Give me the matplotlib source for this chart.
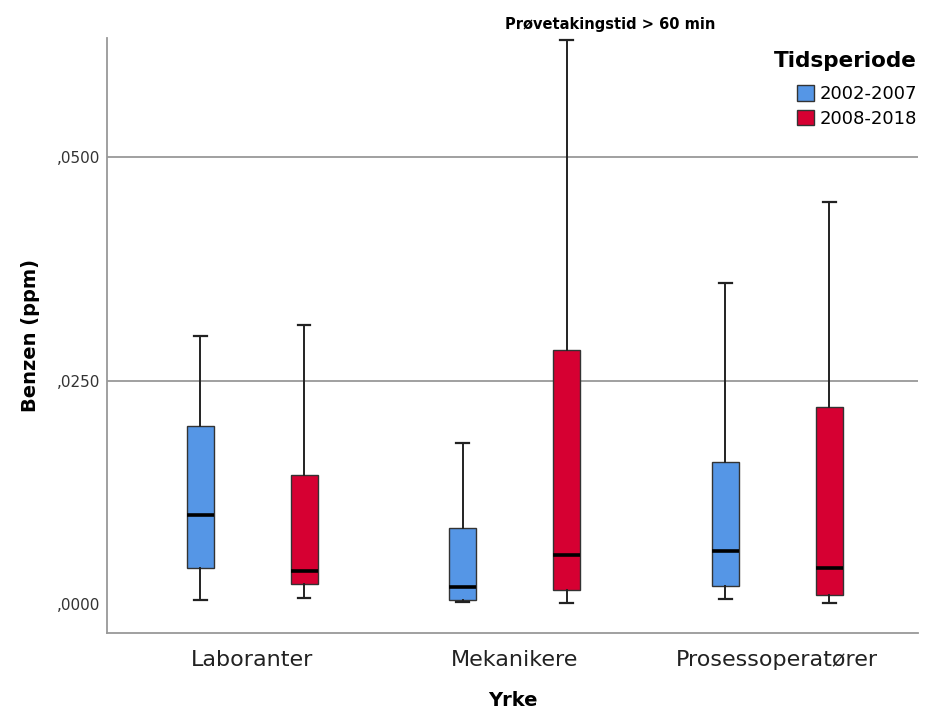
import matplotlib
matplotlib.use("Agg")
import matplotlib.pyplot as plt
from matplotlib.patches import Patch
from matplotlib.ticker import FixedLocator

categories = ["Laboranter", "Mekanikere", "Prosessoperatører"]
periods = ["2002-2007", "2008-2018"]

# per period: lists over categories
whislo = {"2002-2007": [0.00048, 0.00027, 0.00053], "2008-2018": [0.00070, 0.00010, 0.00016]}
q1     = {"2002-2007": [0.00400, 0.00046, 0.00202], "2008-2018": [0.00220, 0.00158, 0.00098]}
med    = {"2002-2007": [0.00999, 0.00194, 0.00597], "2008-2018": [0.00366, 0.00550, 0.00400]}
q3     = {"2002-2007": [0.01995, 0.00847, 0.01593], "2008-2018": [0.01443, 0.02840, 0.02208]}
whishi = {"2002-2007": [0.02998, 0.01797, 0.03594], "2008-2018": [0.03125, 0.06310, 0.04493]}

yticks = [0.0, 0.025, 0.05]
ytick_labels = [",0000", ",0250", ",0500"]
colors = {"2002-2007": "#5596E6", "2008-2018": "#D60032"}

fig = plt.figure(figsize=(9.29, 7.10), dpi=100)
ax = fig.add_axes([107/929, 77/710, 811/929, 595/710])

offsets = {"2002-2007": -0.198, "2008-2018": 0.198}
for p in periods:
    stats = []
    for i in range(len(categories)):
        stats.append(dict(whislo=whislo[p][i], q1=q1[p][i], med=med[p][i],
                          q3=q3[p][i], whishi=whishi[p][i], fliers=[]))
    pos = [i + offsets[p] for i in range(len(categories))]
    ax.bxp(stats, positions=pos, widths=0.102, patch_artist=True,
           showfliers=False, manage_ticks=False,
           boxprops=dict(facecolor=colors[p], edgecolor="#333333", linewidth=1.0),
           medianprops=dict(color="black", linewidth=2.6),
           whiskerprops=dict(color="#222222", linewidth=1.4),
           capprops=dict(color="#222222", linewidth=1.6),
           capwidths=0.048, zorder=3)

ax.set_xlim(-0.553, 2.536)
ax.set_ylim(-0.00324, 0.06331)
ax.yaxis.set_major_locator(FixedLocator(yticks))
ax.set_yticklabels(ytick_labels)
ax.set_xticks(range(len(categories)))
ax.set_xticklabels(categories)
ax.tick_params(axis="both", length=0)
ax.tick_params(axis="y", labelsize=11, labelcolor="#333333", pad=5)
ax.tick_params(axis="x", labelsize=16, labelcolor="#222222", pad=12)

for y in yticks[1:]:
    ax.axhline(y, color="#999999", linewidth=1.3, zorder=1)

for s in ["top", "right"]:
    ax.spines[s].set_visible(False)
for s in ["left", "bottom"]:
    ax.spines[s].set_color("#999999")
    ax.spines[s].set_linewidth(1.3)

ax.set_ylabel("Benzen (ppm)", fontsize=14, fontweight="bold", labelpad=12)
ax.set_xlabel("Yrke", fontsize=14, fontweight="bold", labelpad=15)

fig.text(610/929, 1 - 24/710, "Prøvetakingstid > 60 min", ha="center", va="center",
         fontsize=10.5, fontweight="bold")

handles = [Patch(facecolor=colors[p], edgecolor="#333333", label=p) for p in periods]
leg = fig.legend(handles=handles, title="Tidsperiode", loc="upper right",
                 bbox_to_anchor=(0.999, 0.943), frameon=False, fontsize=13,
                 title_fontproperties=dict(weight="bold", size=15.5),
                 handlelength=0.95, handleheight=0.95, handletextpad=0.3,
                 labelspacing=0.35, borderaxespad=0.2)
leg._legend_box.align = "right"
leg._legend_box.sep = 10

fig.savefig("out.png", dpi=100, facecolor="white")
